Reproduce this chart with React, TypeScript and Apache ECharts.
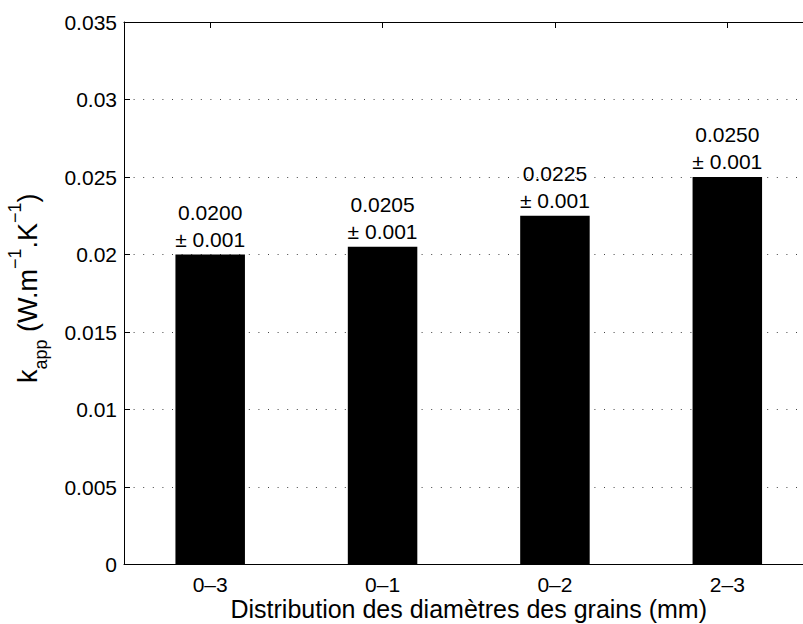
import React, { useEffect, useRef } from 'react';
import * as echarts from 'echarts';

const categories = ['0–3', '0–1', '0–2', '2–3'];
const kValues = [0.02, 0.0205, 0.0225, 0.025];
const uncertainties = [0.001, 0.001, 0.001, 0.001];
const yMin = 0;
const yMax = 0.035;
const yStep = 0.005;

const FONT = '"Liberation Sans", Arial, Helvetica, sans-serif';

export default function App() {
  const ref = useRef<HTMLDivElement>(null);
  useEffect(() => {
    const chart = echarts.init(ref.current!, null, { renderer: 'svg' });
    const axisLineStyle = { color: '#000', width: 1 };
    chart.setOption({
      animation: false,
      backgroundColor: '#fff',
      grid: {
        left: 124,
        right: -10.5,
        top: 22,
        bottom: 59.5,
        containLabel: false,
        outerBoundsMode: 'none',
      },
      xAxis: [
        {
          type: 'category',
          data: categories,
          position: 'bottom',
          axisLine: { show: true, lineStyle: axisLineStyle },
          axisTick: { show: true, inside: true, alignWithLabel: true, length: 6, lineStyle: axisLineStyle },
          axisLabel: { color: '#000', fontSize: 21, fontFamily: FONT, margin: 9 },
          splitLine: { show: false },
          name: 'Distribution des diamètres des grains (mm)',
          nameLocation: 'middle',
          nameGap: 31.5,
          nameMoveOverlap: false,
          nameTextStyle: { color: '#000', fontSize: 25, lineHeight: 25, fontFamily: FONT },
        },
        {
          type: 'category',
          data: categories,
          position: 'top',
          axisLine: { show: true, lineStyle: axisLineStyle },
          axisTick: { show: true, inside: true, alignWithLabel: true, length: 6, lineStyle: axisLineStyle },
          axisLabel: { show: false },
          splitLine: { show: false },
        },
      ],
      yAxis: {
        type: 'value',
        min: yMin,
        max: yMax,
        interval: yStep,
        axisLine: { show: true, lineStyle: axisLineStyle },
        axisTick: { show: true, inside: true, length: 6, lineStyle: axisLineStyle },
        axisLabel: {
          color: '#000',
          fontSize: 21,
          fontFamily: FONT,
          margin: 7,
          formatter: (v: number) => String(+v.toFixed(3)),
        },
        splitLine: { show: true, lineStyle: { color: '#444', width: 1, type: [1, 8.6] } },
        name: '{m|k}{sub|app}{m| (W.m}{sup|−1}{m|.K}{sup|−1}{m|)}',
        nameLocation: 'middle',
        nameRotate: 90,
        nameGap: 74,
        nameMoveOverlap: false,
        nameTextStyle: {
          color: '#000',
          fontFamily: FONT,
          padding: [0, 0, 0, 10],
          rich: {
            m: { fontSize: 27, fontFamily: FONT, color: '#000', lineHeight: 44 },
            sub: { fontSize: 18, fontFamily: FONT, color: '#000', lineHeight: 18, verticalAlign: 'bottom' },
            sup: { fontSize: 18, fontFamily: FONT, color: '#000', lineHeight: 25, verticalAlign: 'top' },
          },
        },
      },
      series: [
        {
          type: 'bar',
          data: kValues,
          barWidth: 69.5,
          itemStyle: { color: '#000' },
          label: {
            show: true,
            position: 'top',
            distance: 2,
            color: '#000',
            fontSize: 21,
            lineHeight: 27,
            fontFamily: FONT,
            formatter: (p: any) =>
              `${kValues[p.dataIndex].toFixed(4)}\n± ${uncertainties[p.dataIndex].toFixed(3)}`,
          },
        },
      ],
    });
    return () => chart.dispose();
  }, []);
  return (
    <div
      ref={ref}
      style={{ position: 'fixed', left: 0, top: 0, width: 803, height: 624, background: '#fff' }}
    />
  );
}
